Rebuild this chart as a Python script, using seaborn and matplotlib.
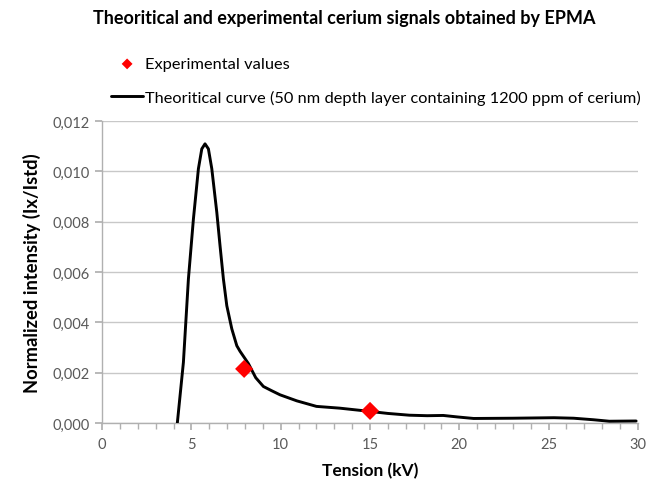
import numpy as np
import pandas as pd
import matplotlib
matplotlib.use("Agg")
import matplotlib.pyplot as plt
from matplotlib.ticker import FuncFormatter, MultipleLocator
import seaborn as sns

# Theoretical curve
theo_kv = [4.21, 4.55, 4.83, 5.11, 5.39, 5.58, 5.76, 5.95, 6.14, 6.42, 6.6, 6.79,
           6.98, 7.26, 7.54, 7.72, 8.19, 8.6, 9.03, 9.5, 9.96, 10.9, 12.0, 13.3,
           15.0, 16.0, 17.2, 18.2, 19.1, 19.9, 20.8, 23.0, 25.3, 26.4, 27.5, 28.4,
           29.9]
theo_int = [0.0, 0.00241, 0.00572, 0.0081, 0.0101, 0.01089, 0.01109, 0.01089,
            0.0101, 0.00837, 0.00705, 0.00572, 0.00466, 0.00374, 0.00307, 0.00285,
            0.00236, 0.0018, 0.00145, 0.00128, 0.00112, 0.00088, 0.00066, 0.00059,
            0.00046, 0.00038, 0.00031, 0.00029, 0.0003, 0.00024, 0.00018, 0.00019,
            0.00021, 0.00019, 0.00013, 0.00007, 0.00008]

# Experimental values
exp_kv = [7.95, 15.0]
exp_int = [0.00215, 0.00048]

title = "Theoritical and experimental cerium signals obtained by EPMA"
exp_label = "Experimental values"
theo_label = "Theoritical curve (50 nm depth layer containing 1200 ppm of cerium)"
xlabel = "Tension (kV)"
ylabel = "Normalized intensity (Ix/Istd)"

sns.set_theme(style="white")
plt.rcParams['font.family'] = ['Lato', 'DejaVu Sans']

theo = pd.DataFrame({"kv": theo_kv, "intensity": theo_int})
exp = pd.DataFrame({"kv": exp_kv, "intensity": exp_int})

fig = plt.figure(figsize=(6.59, 4.81), dpi=100)
ax = fig.add_axes([0.155, 0.1185, 0.813, 0.628])

sns.lineplot(data=theo, x="kv", y="intensity", ax=ax, color="black", lw=2.1,
             sort=False, estimator=None, label=theo_label, zorder=3)
sns.scatterplot(data=exp, x="kv", y="intensity", ax=ax, color="#ff0000",
                marker="D", s=85, edgecolor="none", label=exp_label, zorder=4)

ax.set_xlim(0, 30)
ax.set_ylim(0, 0.012)
ax.xaxis.set_major_locator(MultipleLocator(5))
ax.xaxis.set_minor_locator(MultipleLocator(1))
ax.yaxis.set_major_locator(MultipleLocator(0.002))
ax.yaxis.set_major_formatter(FuncFormatter(lambda v, p: f"{v:.3f}".replace(".", ",")))
ax.xaxis.set_major_formatter(FuncFormatter(lambda v, p: f"{v:g}"))

ax.grid(axis="y", color="#c8c8c8", lw=1)
ax.grid(axis="x", visible=False)
for s in ["top", "right"]:
    ax.spines[s].set_visible(False)
for s in ["left", "bottom"]:
    ax.spines[s].set_color("#b0b0b0")
    ax.spines[s].set_linewidth(1)

ax.tick_params(axis="both", which="both", direction="out", color="#b0b0b0",
               labelcolor="#595959", labelsize=10.5)
ax.tick_params(axis="x", which="major", length=5, bottom=True, pad=5)
ax.tick_params(axis="x", which="minor", length=4, bottom=True)
ax.tick_params(axis="y", which="major", length=5, left=True, pad=4)

ax.set_xlabel(xlabel, fontsize=12.5, fontweight="bold", color="black", labelpad=8)
ax.set_ylabel(ylabel, fontsize=13.2, fontweight="bold", color="black", labelpad=8)

fig.text(0.523, 0.962, title, ha="center", va="center", fontsize=13,
         fontweight="bold", color="black")

handles, labels = ax.get_legend_handles_labels()
order = [labels.index(exp_label), labels.index(theo_label)]
ax.legend([handles[i] for i in order], [labels[i] for i in order],
          loc="upper left", bbox_to_anchor=(0.168, 0.880),
          bbox_transform=fig.transFigure, frameon=False, fontsize=11.8,
          labelspacing=1.13, handlelength=2.0, handletextpad=0.1,
          borderaxespad=0, borderpad=0, markerscale=0.6, labelcolor="black")

fig.savefig("out.png", dpi=100)
